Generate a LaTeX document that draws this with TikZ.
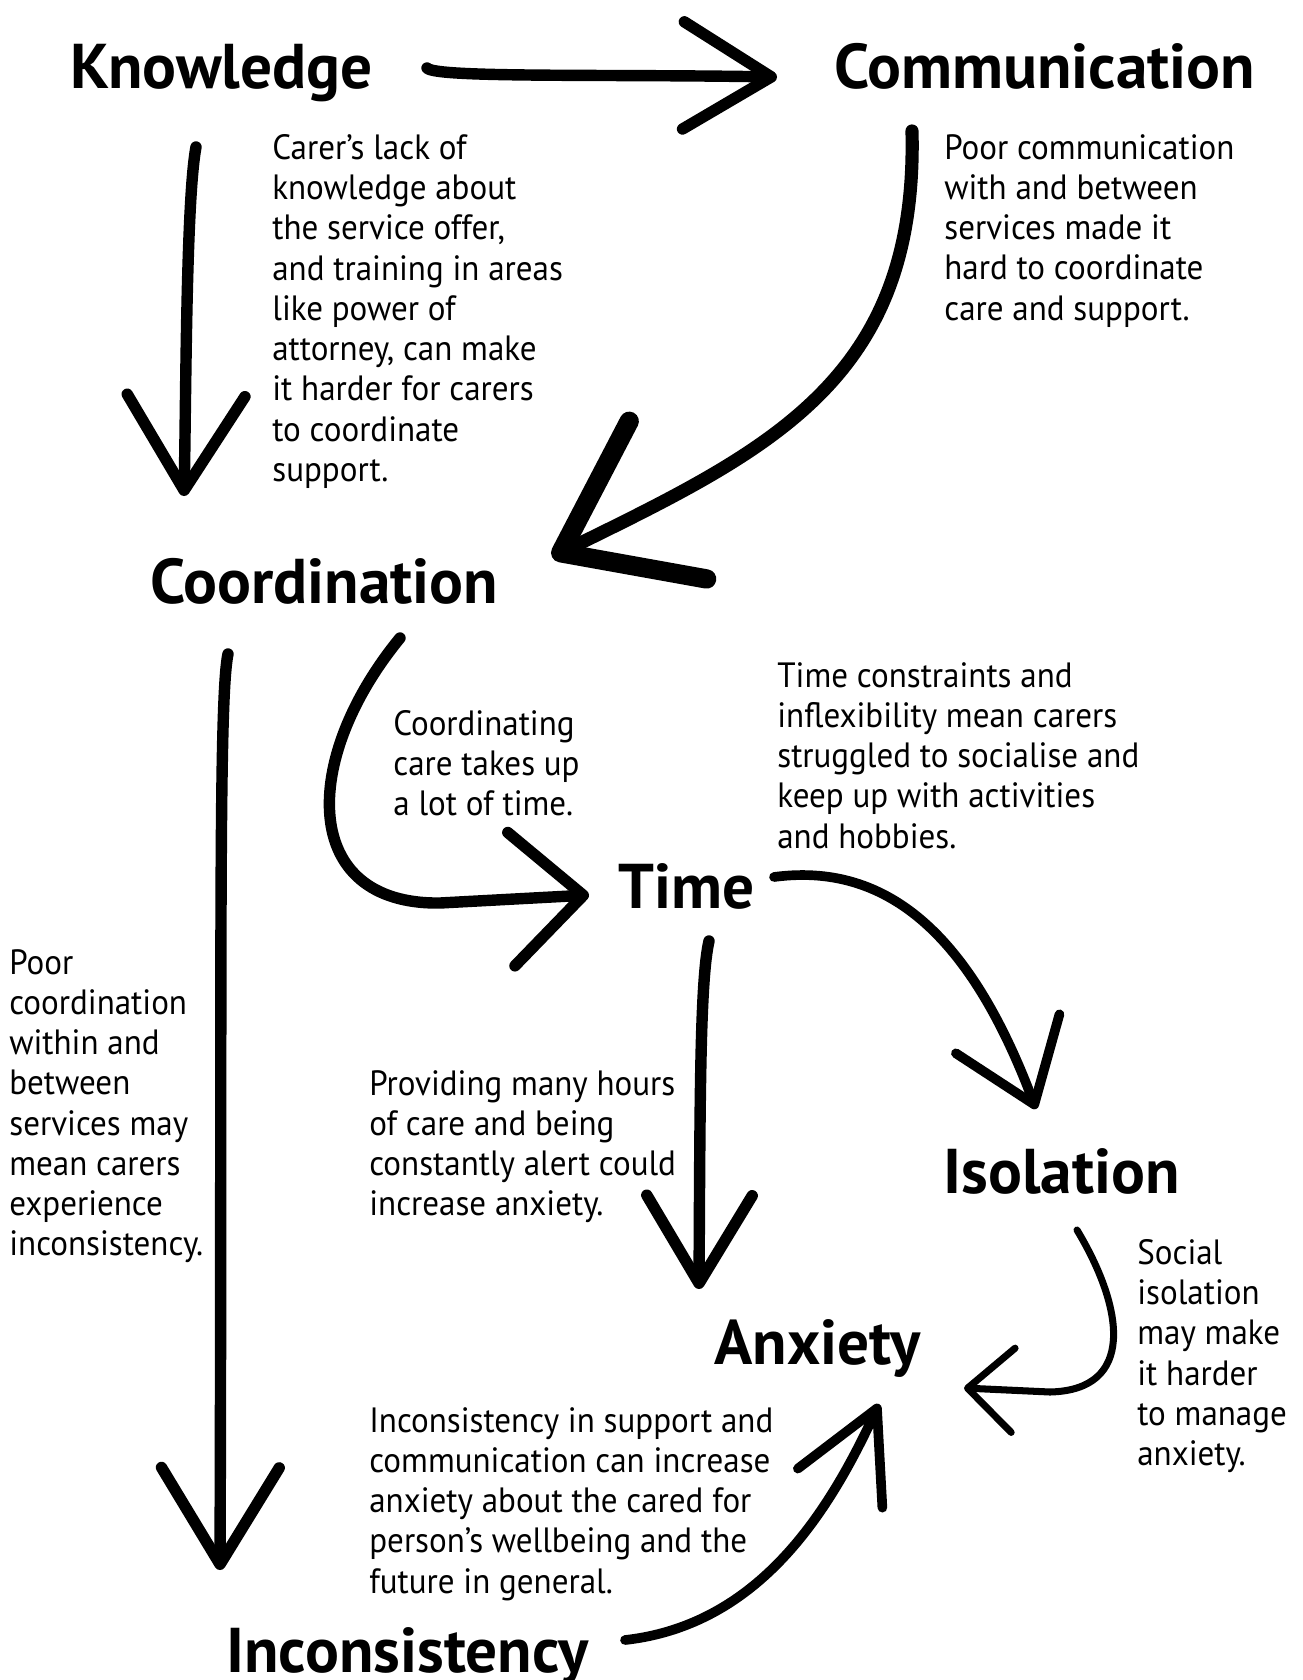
\documentclass[tikz,border=0pt]{standalone}
\usepackage{fontspec}
\setmainfont{PT Sans}[FakeStretch=0.94]
\newfontfamily\headfont{PT Sans}
\usetikzlibrary{arrows.meta}

\tikzset{
  head/.style={font=\headfont\bfseries\fontsize{36}{42}\selectfont, inner sep=0pt, anchor=base west},
  note/.style={font=\fontsize{20}{22.9}\selectfont, align=left, inner sep=0pt, anchor=north west},
  arr/.style={line width=6.5pt, line cap=round, line join=round},
}

\begin{document}
\begin{tikzpicture}[x=0.02cm, y=-0.02cm]
  \useasboundingbox (0,0) rectangle (1302,1680);

  % Nodes
  \node[head] (know)   at (70,88)    {Knowledge};
  \node[head] (comm)   at (834,88)   {Communication};
  \node[head] (coord)  at (150,603)  {Coordination};
  \node[head] (time)   at (618,908)  {Time};
  \node[head] (iso)    at (943,1193) {Isolation};
  \node[head] (anx)    at (714,1364) {Anxiety};
  \node[head] (incons) at (226,1672) {Inconsistency};

  % Notes
  \node[note] (carer) at (272,134) {Carer’s lack of\\knowledge about\\the service offer,\\and training in areas\\like power of\\attorney, can make\\it harder for carers\\to coordinate\\support.};
  \node[note] (poorcomm) at (944,134) {Poor communication\\with and between\\services made it\\hard to coordinate\\care and support.};
  \node[note] (coordtxt) at (393,710) {Coordinating\\care takes up\\a lot of time.};
  \node[note] (timetxt) at (777,662) {Time constraints and\\inflexibility mean carers\\struggled to socialise and\\keep up with activities\\and hobbies.};
  \node[note] (poorcoord) at (9,949) {Poor\\coordination\\within and\\between\\services may\\mean carers\\experience\\inconsistency.};
  \node[note] (hours) at (369,1070) {Providing many hours\\of care and being\\constantly alert could\\increase anxiety.};
  \node[note] (social) at (1137,1239) {Social\\isolation\\may make\\it harder\\to manage\\anxiety.};
  \node[note] (inctxt) at (369,1407) {Inconsistency in support and\\communication can increase\\anxiety about the cared for\\person’s wellbeing and the\\future in general.};

  % Edges
  \draw[arr, -{Straight Barb[length=50pt,width=61pt,round]}]
    ([shift={(357,-20)}]know.base west) .. controls (435,78) and (600,74) .. ([shift={(-57,-11)}]comm.base west);
  \draw[arr, -{Straight Barb[length=54pt,width=67pt,round]}]
    ([shift={(126,59)}]know.base west) .. controls (186,200) and (186,400) .. ([shift={(34,-107)}]coord.base west);
  \draw[arr, line width=7.5pt, -{Straight Barb[length=68pt,width=100pt,line width=11pt,round]}]
    ([shift={(78,43)}]comm.base west) .. controls (918,380) and (770,450) .. ([shift={(402,-46)}]coord.base west);
  \draw[arr, -{Straight Barb[length=41pt,width=76pt,round]}]
    ([shift={(250,35)}]coord.base west) .. controls (300,760) and (300,905) .. (440,903) -- ([shift={(-29,-13)}]time.base west);
  \draw[arr, -{Straight Barb[length=55pt,width=67pt,round]}]
    ([shift={(78,51)}]coord.base west) .. controls (218,700) and (222,1000) .. ([shift={(-6,-102)}]incons.base west);
  \draw[arr, -{Straight Barb[length=50pt,width=60pt,round]}]
    ([shift={(91,33)}]time.base west) .. controls (700,980) and (700,1100) .. ([shift={(-15,-75)}]anx.base west);
  \draw[arr, line width=5.5pt, -{Straight Barb[length=43pt,width=63pt,round]}]
    ([shift={(156,-31)}]time.base west) .. controls (900,860) and (978,955) .. ([shift={(93,-84)}]iso.base west);
  \draw[arr, line width=4pt, -{Straight Barb[length=26pt,width=48pt,round]}]
    ([shift={(134,37)}]iso.base west) .. controls (1125,1310) and (1135,1390) .. (1050,1392) -- ([shift={(250,24)}]anx.base west);
  \draw[arr, line width=5.5pt, -{Straight Barb[length=50pt,width=53pt,round]}]
    ([shift={(399,-32)}]incons.base west) .. controls (760,1625) and (830,1510) .. ([shift={(165,40)}]anx.base west);
\end{tikzpicture}
\end{document}
